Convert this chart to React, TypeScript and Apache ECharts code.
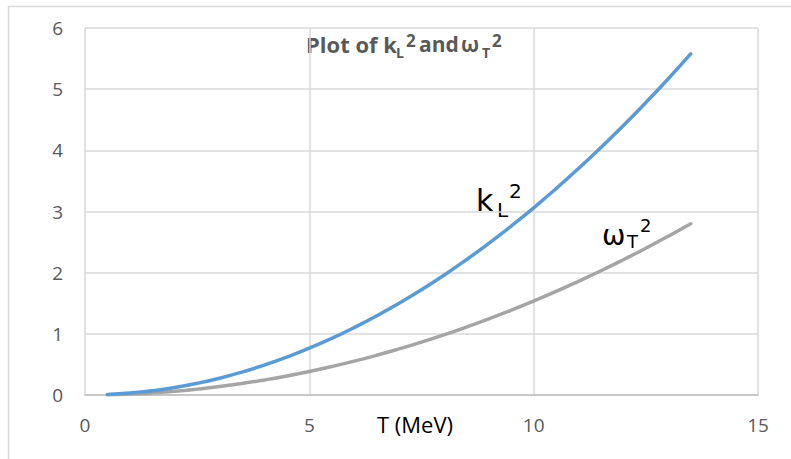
import React, { useEffect, useRef } from "react";
import * as echarts from "echarts";

const tValues = [0.5, 1, 1.5, 2, 2.5, 3, 3.5, 4, 4.5, 5, 5.5, 6, 6.5, 7, 7.5, 8, 8.5, 9, 9.5, 10, 10.5, 11, 11.5, 12, 12.5, 13, 13.5];
const kL2 = [0.008, 0.031, 0.069, 0.122, 0.191, 0.275, 0.375, 0.49, 0.62, 0.765, 0.926, 1.102, 1.293, 1.499, 1.721, 1.958, 2.211, 2.479, 2.762, 3.06, 3.374, 3.703, 4.047, 4.406, 4.781, 5.171, 5.577];
const omegaT2 = [0.004, 0.015, 0.035, 0.061, 0.096, 0.138, 0.188, 0.246, 0.311, 0.384, 0.465, 0.553, 0.649, 0.753, 0.864, 0.983, 1.11, 1.244, 1.386, 1.536, 1.693, 1.859, 2.031, 2.212, 2.4, 2.596, 2.8];
const xTicks = { min: 0, max: 15, interval: 5 };
const yTicks = { min: 0, max: 6, interval: 1 };

const LABEL = "#595959";
const GRID = "#D9D9D9";

export default function App() {
  const ref = useRef<HTMLDivElement>(null);
  useEffect(() => {
    if (!ref.current) return;
    const chart = echarts.init(ref.current, null, { renderer: "svg" });
    const font = "'Open Sans', sans-serif";
    const dv = "'DejaVu Sans', sans-serif";
    chart.setOption({
      animation: false,
      backgroundColor: "#ffffff",
      grid: { left: 85, right: 33, top: 28, bottom: 64 },
      xAxis: {
        type: "value",
        min: xTicks.min,
        max: xTicks.max,
        interval: xTicks.interval,
        axisLine: { show: true, lineStyle: { color: "#BFBFBF", width: 1.5 } },
        axisTick: { show: false },
        splitLine: { show: true, lineStyle: { color: GRID, width: 1.5 } },
        axisLabel: { color: LABEL, fontFamily: font, fontSize: 19, margin: 20 },
      },
      yAxis: {
        type: "value",
        min: yTicks.min,
        max: yTicks.max,
        interval: yTicks.interval,
        axisLine: { show: false },
        axisTick: { show: false },
        splitLine: { show: true, lineStyle: { color: GRID, width: 1.5 } },
        axisLabel: { color: LABEL, fontFamily: font, fontSize: 19, margin: 22 },
      },
      series: [
        {
          name: "kL2",
          type: "line",
          smooth: true,
          showSymbol: false,
          data: tValues.map((t, i) => [t, kL2[i]]),
          lineStyle: { color: "#5B9BD5", width: 3.5, cap: "round" },
          z: 3,
        },
        {
          name: "omegaT2",
          type: "line",
          smooth: true,
          showSymbol: false,
          data: tValues.map((t, i) => [t, omegaT2[i]]),
          lineStyle: { color: "#A5A5A5", width: 3.5, cap: "round" },
          z: 2,
        },
      ],
      graphic: [
        { type: "rect", left: 6, top: 4, shape: { width: 800, height: 470 }, style: { fill: "none", stroke: GRID, lineWidth: 1.5 }, silent: true, z: -1 },
        // title
        { type: "text", x: 306, y: 44, style: { text: "Plot of k", font: `bold 22px ${font}`, fill: LABEL, textVerticalAlign: "middle" } },
        { type: "text", x: 396, y: 52, style: { text: "L", font: `bold 14px ${font}`, fill: LABEL, textVerticalAlign: "middle" } },
        { type: "text", x: 406, y: 40, style: { text: "2", font: `bold 17px ${font}`, fill: LABEL, textVerticalAlign: "middle" } },
        { type: "text", x: 419, y: 44, style: { text: "and", font: `bold 21px ${font}`, fill: LABEL, textVerticalAlign: "middle" } },
        { type: "text", x: 461, y: 44, style: { text: "ω", font: `bold 21px ${font}`, fill: LABEL, textVerticalAlign: "middle" } },
        { type: "text", x: 482, y: 52, style: { text: "T", font: `bold 14px ${font}`, fill: LABEL, textVerticalAlign: "middle" } },
        { type: "text", x: 492, y: 40, style: { text: "2", font: `bold 17px ${font}`, fill: LABEL, textVerticalAlign: "middle" } },
        // axis name
        { type: "text", x: 415, y: 424, style: { text: "T (MeV)", font: `22px ${font}`, fill: "#000000", textAlign: "center", textVerticalAlign: "middle" } },
        // kL^2 label
        { type: "text", x: 476, y: 200, style: { text: "k", font: `30px ${dv}`, fill: "#000000", textVerticalAlign: "middle" } },
        { type: "text", x: 497, y: 210, style: { text: "L", font: `20px ${dv}`, fill: "#000000", textVerticalAlign: "middle" } },
        { type: "text", x: 509, y: 191, style: { text: "2", font: `20px ${dv}`, fill: "#000000", textVerticalAlign: "middle" } },
        // omegaT^2 label
        { type: "text", x: 602, y: 235, style: { text: "ω", font: `28px ${dv}`, fill: "#000000", textVerticalAlign: "middle" } },
        { type: "text", x: 627, y: 241, style: { text: "T", font: `18px ${dv}`, fill: "#000000", textVerticalAlign: "middle" } },
        { type: "text", x: 640, y: 225, style: { text: "2", font: `18px ${dv}`, fill: "#000000", textVerticalAlign: "middle" } },
      ],
    });
    return () => chart.dispose();
  }, []);
  return <div ref={ref} style={{ width: 791, height: 459, position: "absolute", left: 0, top: 0 }} />;
}
